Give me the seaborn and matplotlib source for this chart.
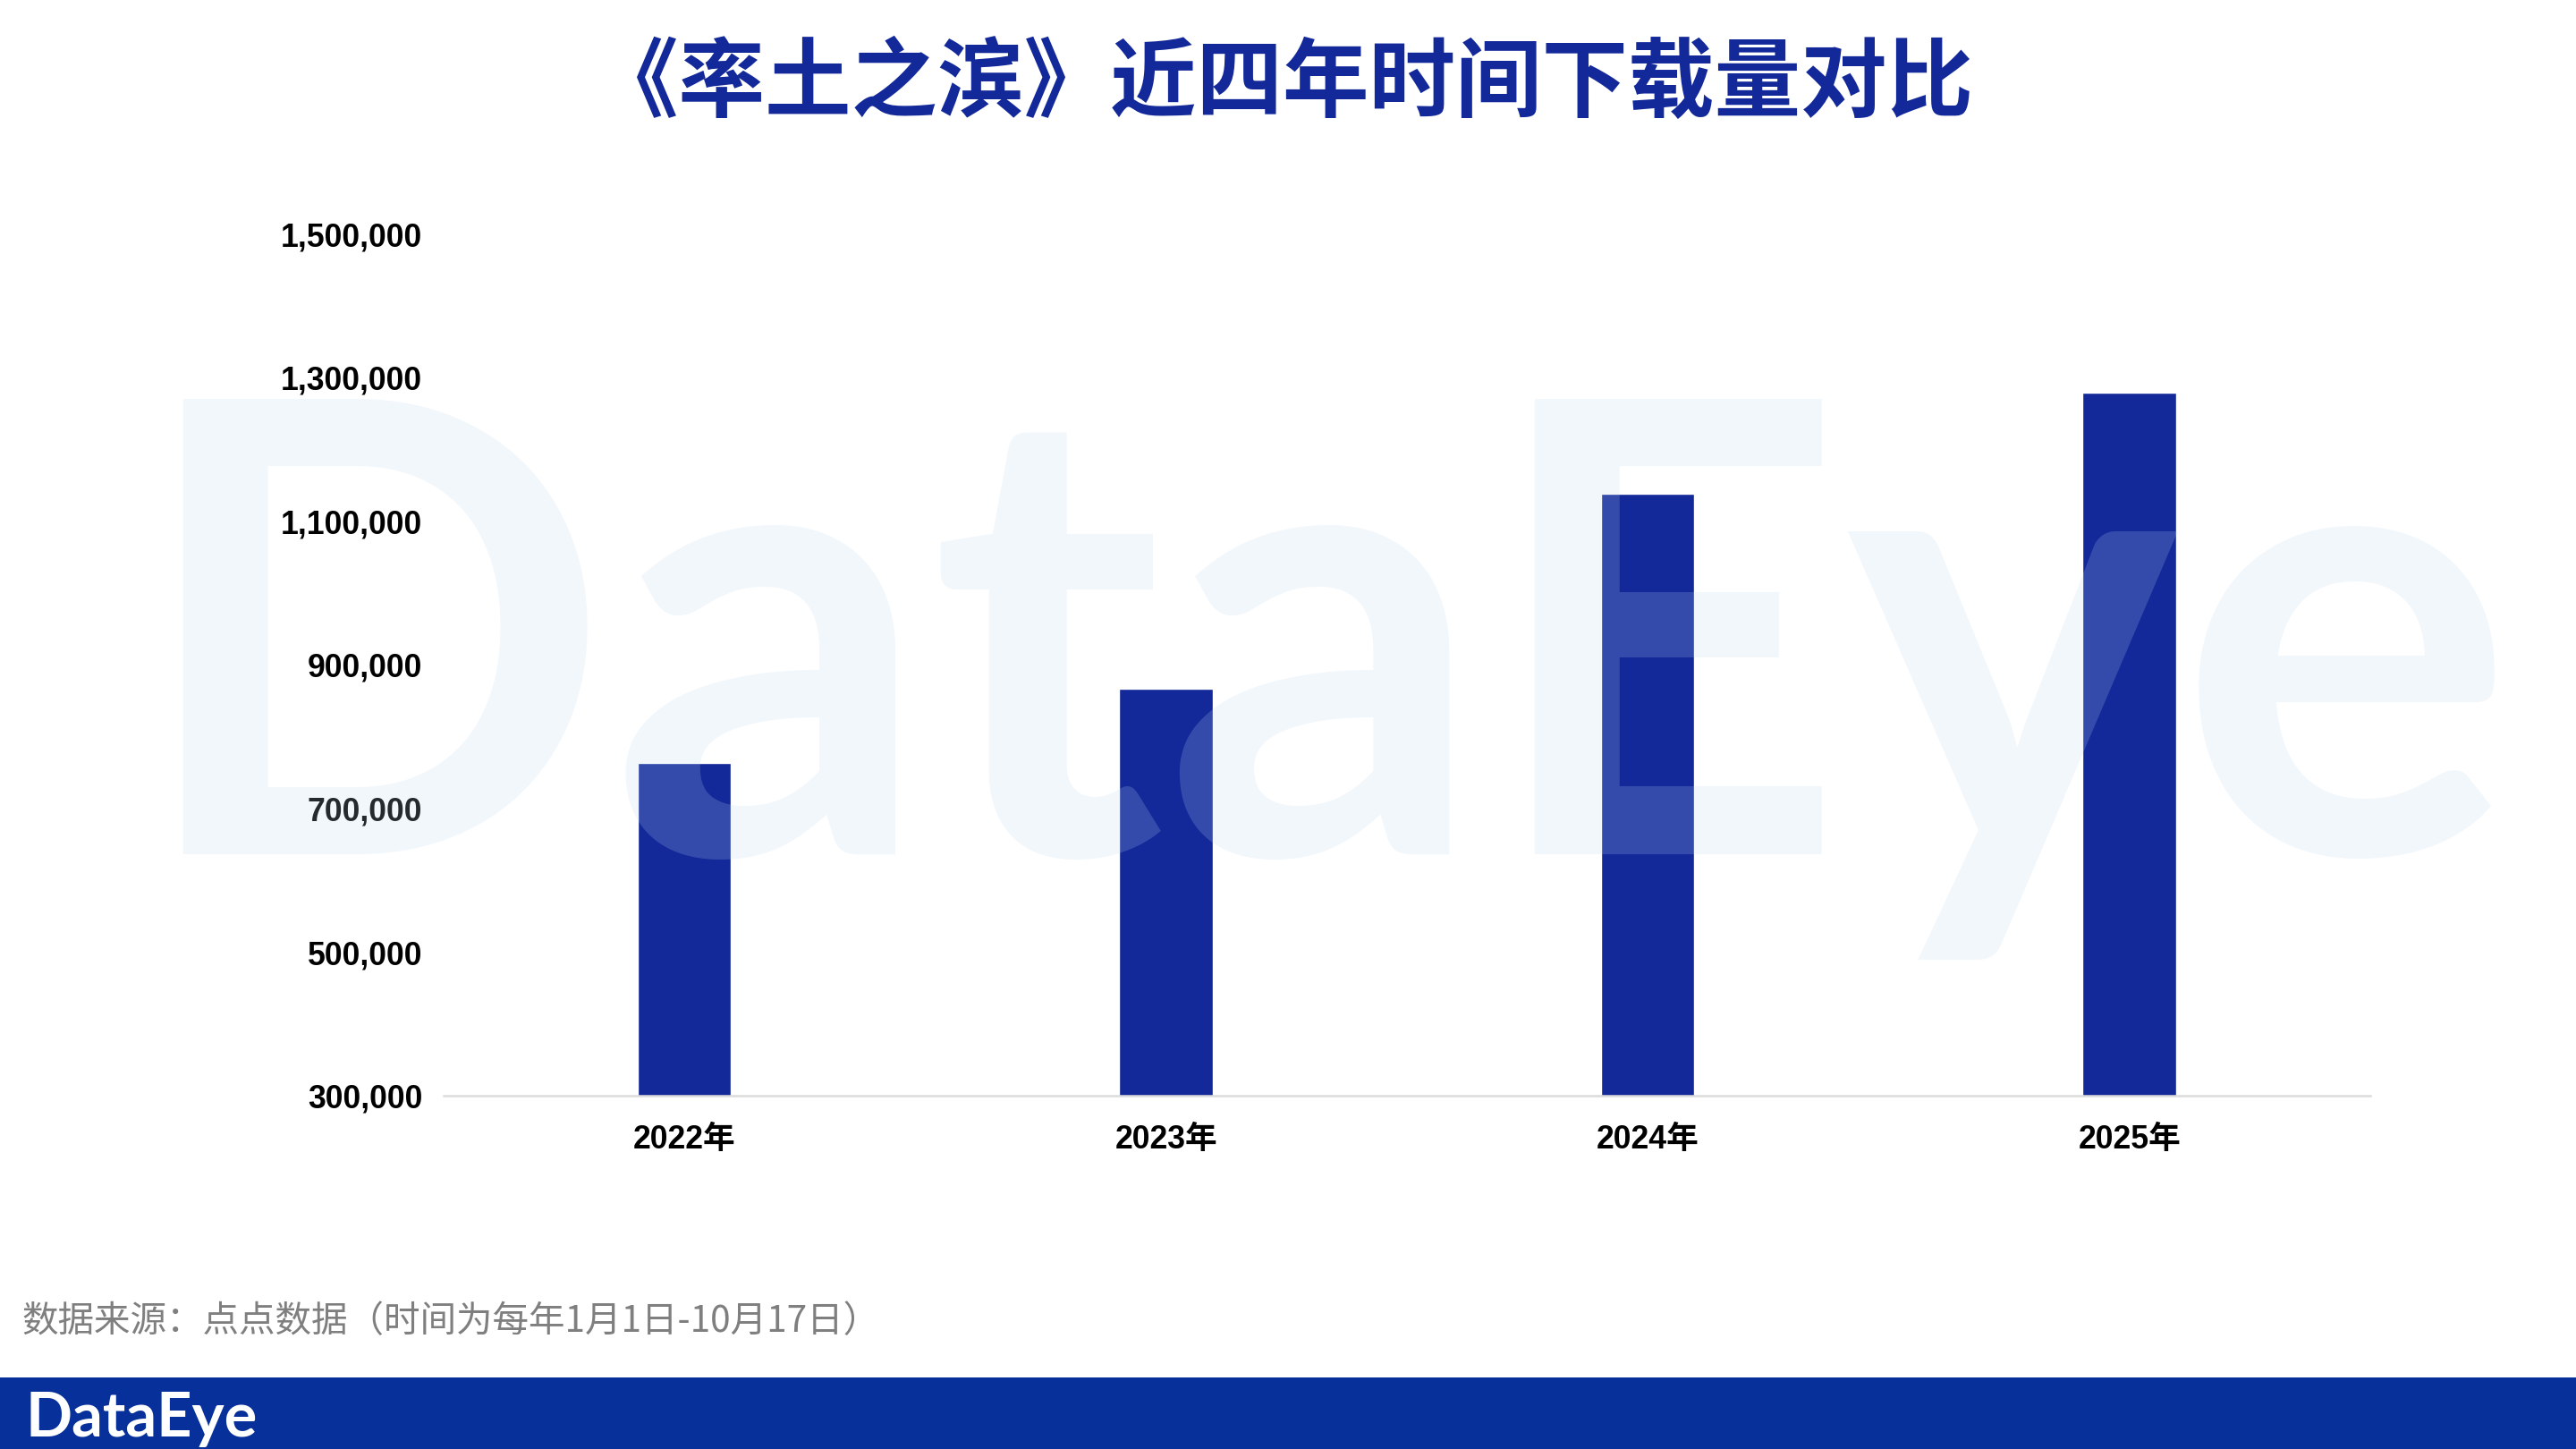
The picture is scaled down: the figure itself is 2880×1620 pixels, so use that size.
import seaborn as sns
import matplotlib.pyplot as plt
from matplotlib.patches import Rectangle
from matplotlib.ticker import StrMethodFormatter

years = ['2022年', '2023年', '2024年', '2025年']
downloads = [764000, 867000, 1139000, 1279000]
y_ticks = [300000, 500000, 700000, 900000, 1100000, 1300000, 1500000]

title = '《率土之滨》近四年时间下载量对比'
source = '数据来源：点点数据（时间为每年1月1日-10月17日）'

blue = '#13299a'
band_blue = '#07309b'

sns.set_style('white')
plt.rcParams['font.family'] = ['Liberation Sans', 'Noto Sans CJK SC', 'DejaVu Sans']

fig = plt.figure(figsize=(28.8, 16.2), dpi=100)
ax = fig.add_axes([0.1722, 0.2438, 0.7479, 0.5946])
ax.patch.set_alpha(0)

sns.barplot(x=years, y=downloads, color=blue, saturation=1, width=0.194, ax=ax)
ax.set_xlim(-0.5, 3.5)
ax.set_ylim(300000, 1500000)
ax.set_yticks(y_ticks)
ax.yaxis.set_major_formatter(StrMethodFormatter('{x:,.0f}'))
ax.set_xlabel('')
ax.set_ylabel('')

for s in ['top', 'right', 'left']:
    ax.spines[s].set_visible(False)
ax.spines['bottom'].set_color('#dcdcdc')
ax.spines['bottom'].set_linewidth(1.8)

ax.tick_params(axis='y', length=0, pad=17, labelsize=25.7, labelcolor='black')
ax.tick_params(axis='x', length=0, pad=23, labelsize=25.7, labelcolor='black')
for lab in ax.get_xticklabels() + ax.get_yticklabels():
    lab.set_fontweight('bold')

# title
fig.text(0.498, 1 - 94 / 1620, title, ha='center', va='center', fontsize=69.5,
         fontweight='black', color=blue, family=['Noto Sans CJK SC', 'DejaVu Sans'])

# source note
fig.text(24 / 2880, 1 - 1478 / 1620, source, ha='left', va='center', fontsize=29.2,
         color='#7f7f7f', family=['Noto Sans CJK SC', 'DejaVu Sans'])

# bottom band with logo
fig.patches.append(Rectangle((0, 0), 1, 80 / 1620, transform=fig.transFigure,
                             facecolor=band_blue, edgecolor='none', zorder=1))

renderer = fig.canvas.get_renderer()


def fit_text(x_px, base_px, width_px, **kw):
    t = fig.text(x_px / 2880, 1 - base_px / 1620, 'DataEye', ha='left', va='baseline',
                 fontsize=100, family=['Lato', 'DejaVu Sans'], fontweight='bold', **kw)
    w = t.get_window_extent(renderer).width
    t.set_fontsize(100 * width_px / w)
    return t


fit_text(29, 1606, 259, color='white', zorder=5)
# watermark over the plot
fit_text(147, 955, 2663, color='#bed7f0', alpha=0.2, zorder=4)

fig.savefig('out.png', dpi=100)
